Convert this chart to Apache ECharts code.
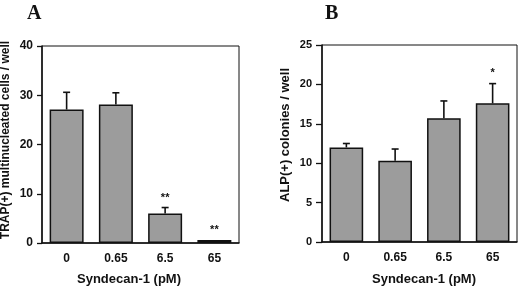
<!DOCTYPE html>
<html>
<head>
<meta charset="utf-8">
<script src="https://cdn.jsdelivr.net/npm/echarts@6/dist/echarts.min.js"></script>
<style>
  html, body { margin: 0; padding: 0; background: #fff; }
  #chart { width: 520px; height: 290px; }
</style>
</head>
<body>
<div id="chart"></div>
<script>
const categories = ['0', '0.65', '6.5', '65'];

// panel A: TRAP(+) multinucleated cells / well
const trapMean = [27.1, 28.1, 6.0, 0.6];
const trapUpper = [30.6, 30.5, 7.2, 0.6];
const trapMarks = ['', '', '**', '**'];
const trapTicks = { min: 0, max: 40, interval: 10 };

// panel B: ALP(+) colonies / well
const alpMean = [12.0, 10.3, 15.7, 17.6];
const alpUpper = [12.5, 11.8, 17.9, 20.1];
const alpMarks = ['', '', '', '*'];
const alpTicks = { min: 0, max: 25, interval: 5 };

const font = '"Liberation Sans", Arial, Helvetica, sans-serif';
const ink = '#111';

const errorSeries = (axisIndex, mean, upper, marks, starGap) => ({
  type: 'custom',
  xAxisIndex: axisIndex,
  yAxisIndex: axisIndex,
  clip: false,
  z: 5,
  data: mean.map((m, i) => [i, m, upper[i], marks[i]]),
  renderItem: (params, api) => {
    const base = api.coord([api.value(0), api.value(1)]);
    const top = api.coord([api.value(0), api.value(2)]);
    const children = [];
    if (api.value(2) > api.value(1)) {
      children.push({
        type: 'line',
        shape: { x1: base[0], y1: base[1], x2: top[0], y2: top[1] },
        style: { stroke: ink, lineWidth: 1.6 },
      });
      children.push({
        type: 'line',
        shape: { x1: top[0] - 3.5, y1: top[1], x2: top[0] + 3.5, y2: top[1] },
        style: { stroke: ink, lineWidth: 1.6 },
      });
    }
    const mark = marks[params.dataIndex];
    if (mark) {
      children.push({
        type: 'text',
        style: {
          text: mark,
          x: top[0],
          y: top[1] - starGap,
          align: 'center',
          verticalAlign: 'middle',
          font: 'bold 11px ' + font,
          fill: ink,
        },
      });
    }
    return { type: 'group', children };
  },
});

const xAxisFor = (gridIndex) => ({
  type: 'category',
  gridIndex,
  data: categories,
  axisLine: { lineStyle: { color: ink, width: 1.5 } },
  axisTick: { alignWithLabel: true, length: 4, lineStyle: { color: ink, width: 1.3 } },
  axisLabel: { color: ink, fontFamily: font, fontWeight: 'bold', fontSize: 12, margin: 10 },
  splitLine: { show: false },
});

const yAxisFor = (gridIndex, ticks, size, tickLen, margin) => ({
  type: 'value',
  gridIndex,
  min: ticks.min,
  max: ticks.max,
  interval: ticks.interval,
  axisLine: { show: true, lineStyle: { color: ink, width: 1.5 } },
  axisTick: { show: true, length: tickLen, lineStyle: { color: ink, width: 1.3 } },
  axisLabel: { color: ink, fontFamily: font, fontWeight: 'bold', fontSize: size, margin },
  splitLine: { show: false },
});

const barSeries = (axisIndex, values) => ({
  type: 'bar',
  xAxisIndex: axisIndex,
  yAxisIndex: axisIndex,
  data: values,
  barCategoryGap: '31%',
  itemStyle: { color: '#9c9c9c', borderColor: ink, borderWidth: 1.5 },
});

const chart = echarts.init(document.getElementById('chart'), null, { renderer: 'canvas' });

chart.setOption({
  animation: false,
  backgroundColor: '#fff',
  grid: [
    { left: 42, right: 281, top: 46, bottom: 47, show: true, borderColor: ink, borderWidth: 1, backgroundColor: 'transparent' },
    { left: 322, right: 3, top: 45, bottom: 48, show: true, borderColor: ink, borderWidth: 1, backgroundColor: 'transparent' },
  ],
  xAxis: [xAxisFor(0), xAxisFor(1)],
  yAxis: [yAxisFor(0, trapTicks, 12, 5, 9), yAxisFor(1, alpTicks, 11, 6, 10)],
  series: [
    barSeries(0, trapMean),
    errorSeries(0, trapMean, trapUpper, trapMarks, 10),
    barSeries(1, alpMean),
    errorSeries(1, alpMean, alpUpper, alpMarks, 11),
  ],
  graphic: [
    { type: 'text', left: 27, top: 4, style: { text: 'A', font: 'bold 20px "Liberation Serif", "Times New Roman", serif', fill: ink } },
    { type: 'text', left: 325, top: 4, style: { text: 'B', font: 'bold 20px "Liberation Serif", "Times New Roman", serif', fill: ink } },
    {
      type: 'text', x: 6, y: 140, rotation: Math.PI / 2,
      style: { text: 'TRAP(+) multinucleated cells / well', font: 'bold 12px ' + font, fill: ink, align: 'center', verticalAlign: 'middle' },
    },
    {
      type: 'text', x: 285, y: 135, rotation: Math.PI / 2,
      style: { text: 'ALP(+) colonies / well', font: 'bold 13px ' + font, fill: ink, align: 'center', verticalAlign: 'middle' },
    },
    {
      type: 'text', x: 129, y: 279,
      style: { text: 'Syndecan-1 (pM)', font: 'bold 13px ' + font, fill: ink, align: 'center', verticalAlign: 'middle' },
    },
    {
      type: 'text', x: 424, y: 279,
      style: { text: 'Syndecan-1 (pM)', font: 'bold 13px ' + font, fill: ink, align: 'center', verticalAlign: 'middle' },
    },
  ],
});

window.addEventListener('resize', () => chart.resize());
</script>
</body>
</html>
